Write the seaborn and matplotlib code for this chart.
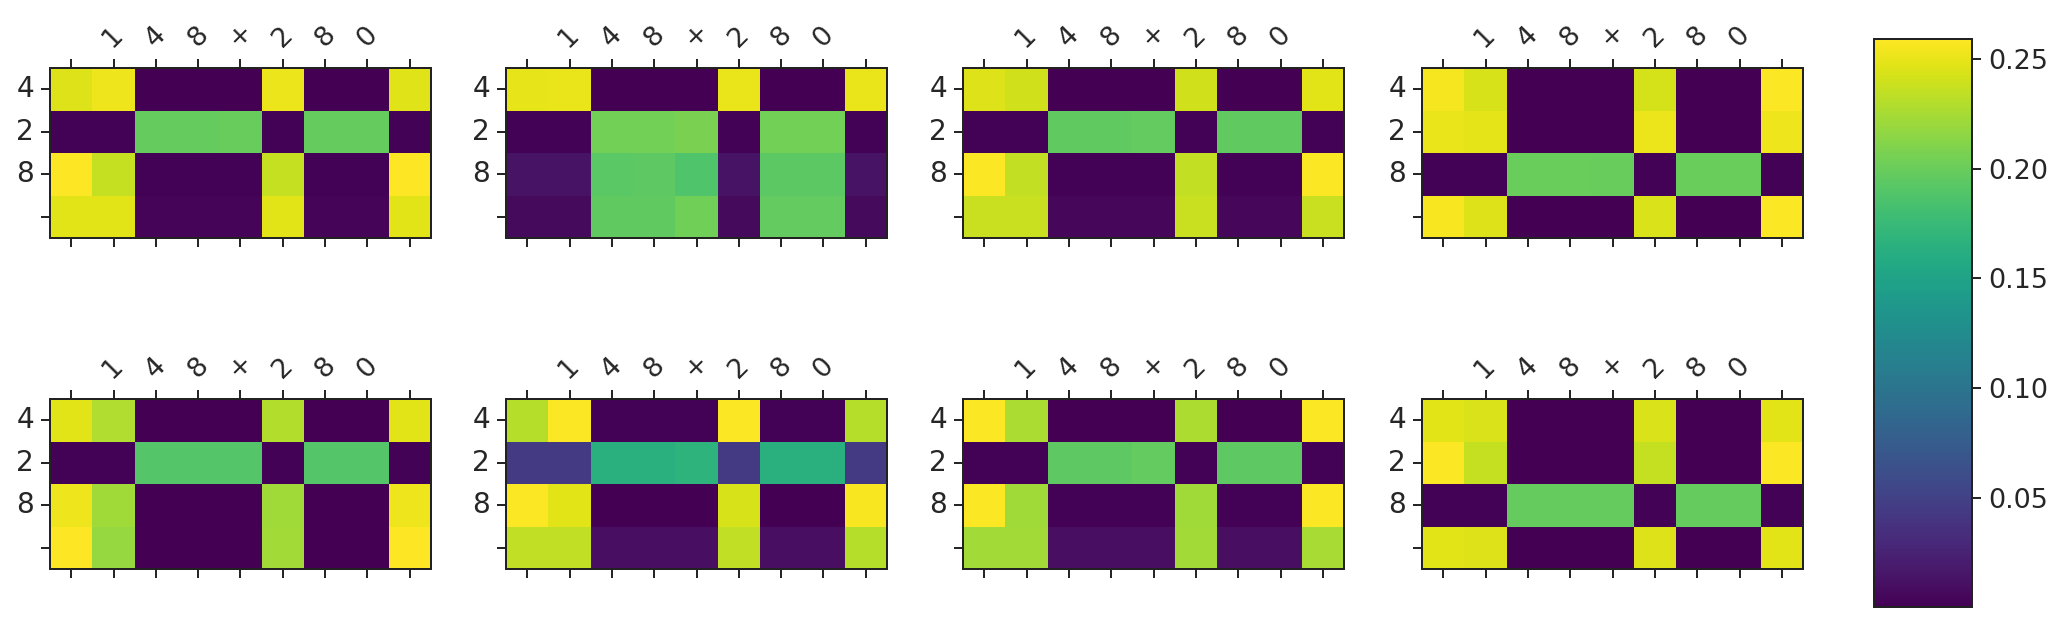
import numpy as np
import matplotlib
matplotlib.use("Agg")
import matplotlib.pyplot as plt
import seaborn as sns

# Axis labels (input expression "148+280", output "428")
x_labels = ['', '1', '4', '8', '+', '2', '8', '0', '']
y_labels = ['4', '2', '8', '']

# Attention weights (rows: output tokens, cols: input tokens)
attn_1 = [
    [0.245, 0.252, 0.001, 0.001, 0.001, 0.251, 0.001, 0.001, 0.246],
    [0.002, 0.002, 0.198, 0.198, 0.199, 0.002, 0.198, 0.198, 0.002],
    [0.258, 0.236, 0.002, 0.002, 0.002, 0.236, 0.002, 0.002, 0.258],
    [0.247, 0.247, 0.003, 0.003, 0.003, 0.247, 0.003, 0.003, 0.247],
]
attn_2 = [
    [0.249, 0.250, 0.0004, 0.0004, 0.0004, 0.250, 0.0004, 0.0004, 0.250],
    [0.002, 0.002, 0.204, 0.204, 0.207, 0.002, 0.204, 0.204, 0.002],
    [0.013, 0.013, 0.193, 0.195, 0.188, 0.013, 0.194, 0.194, 0.013],
    [0.007, 0.007, 0.196, 0.196, 0.203, 0.007, 0.197, 0.197, 0.007],
]
attn_3 = [
    [0.245, 0.240, 0.001, 0.001, 0.001, 0.240, 0.001, 0.001, 0.247],
    [0.002, 0.002, 0.196, 0.196, 0.197, 0.002, 0.196, 0.196, 0.002],
    [0.257, 0.235, 0.002, 0.002, 0.002, 0.235, 0.002, 0.002, 0.257],
    [0.237, 0.237, 0.005, 0.005, 0.005, 0.237, 0.005, 0.005, 0.237],
]
attn_4 = [
    [0.255, 0.243, 0.001, 0.001, 0.001, 0.242, 0.001, 0.001, 0.257],
    [0.250, 0.248, 0.001, 0.001, 0.001, 0.251, 0.001, 0.001, 0.252],
    [0.002, 0.002, 0.200, 0.200, 0.199, 0.002, 0.200, 0.200, 0.002],
    [0.256, 0.245, 0.001, 0.001, 0.001, 0.244, 0.001, 0.001, 0.257],
]
attn_5 = [
    [0.247, 0.228, 0.001, 0.001, 0.001, 0.229, 0.001, 0.001, 0.247],
    [0.002, 0.002, 0.190, 0.190, 0.190, 0.002, 0.190, 0.190, 0.002],
    [0.252, 0.222, 0.001, 0.001, 0.001, 0.222, 0.001, 0.001, 0.252],
    [0.258, 0.218, 0.001, 0.001, 0.001, 0.223, 0.001, 0.001, 0.258],
]
attn_6 = [
    [0.230, 0.257, 0.002, 0.002, 0.002, 0.257, 0.002, 0.002, 0.230],
    [0.044, 0.044, 0.165, 0.165, 0.168, 0.044, 0.165, 0.165, 0.044],
    [0.257, 0.247, 0.001, 0.001, 0.001, 0.243, 0.001, 0.001, 0.256],
    [0.234, 0.234, 0.010, 0.010, 0.010, 0.234, 0.010, 0.010, 0.230],
]
attn_7 = [
    [0.257, 0.226, 0.001, 0.001, 0.001, 0.227, 0.001, 0.001, 0.257],
    [0.002, 0.002, 0.195, 0.195, 0.197, 0.002, 0.195, 0.195, 0.002],
    [0.257, 0.222, 0.002, 0.002, 0.002, 0.222, 0.002, 0.002, 0.257],
    [0.223, 0.223, 0.010, 0.010, 0.010, 0.223, 0.010, 0.010, 0.225],
]
attn_8 = [
    [0.247, 0.244, 0.001, 0.001, 0.001, 0.244, 0.001, 0.001, 0.247],
    [0.257, 0.236, 0.001, 0.001, 0.001, 0.236, 0.001, 0.001, 0.257],
    [0.002, 0.002, 0.198, 0.198, 0.198, 0.002, 0.198, 0.198, 0.002],
    [0.247, 0.245, 0.001, 0.001, 0.001, 0.245, 0.001, 0.001, 0.247],
]

panels = [attn_1, attn_2, attn_3, attn_4, attn_5, attn_6, attn_7, attn_8]
all_vals = np.concatenate([np.ravel(p) for p in panels])
vmin, vmax = all_vals.min(), 0.259

W, H = 2052, 618
fig = plt.figure(figsize=(W / 144, H / 144), dpi=144)

lefts_px = [50, 506, 963, 1422]
tops_px = [68, 399]
ax_w_px, ax_h_px = 381, 170
label_color = '#262626'

mesh = None
for i, data in enumerate(panels):
    r, c = divmod(i, 4)
    rect = [lefts_px[c] / W, 1 - (tops_px[r] + ax_h_px) / H, ax_w_px / W, ax_h_px / H]
    ax = fig.add_axes(rect)
    sns.heatmap(np.array(data), ax=ax, cmap='viridis', vmin=vmin, vmax=vmax,
                cbar=False, xticklabels=x_labels, yticklabels=y_labels)
    mesh = ax.collections[0]
    ax.tick_params(axis='x', top=True, bottom=True, labeltop=True, labelbottom=False,
                   labelsize=13.5, length=4.5, width=1.0, colors=label_color)
    for t in ax.get_xticklabels():
        t.set_rotation(45)
        t.set_ha('center')
    ax.tick_params(axis='y', left=True, right=False, labelsize=14,
                   length=4.5, width=1.0, colors=label_color)
    for t in ax.get_yticklabels():
        t.set_rotation(0)
        t.set_va('center')
    for sp in ax.spines.values():
        sp.set_visible(True)
        sp.set_color('#222222')
        sp.set_linewidth(1.0)

cax = fig.add_axes([1874 / W, 1 - 607 / H, 98 / W, 568 / H])
cb = fig.colorbar(mesh, cax=cax)
cb.set_ticks([0.05, 0.10, 0.15, 0.20, 0.25])
cb.ax.tick_params(labelsize=13.5, length=4.5, width=1.0, colors=label_color)
cb.outline.set_linewidth(1.0)
cb.outline.set_edgecolor('#222222')

fig.savefig('out.png', dpi=144)
